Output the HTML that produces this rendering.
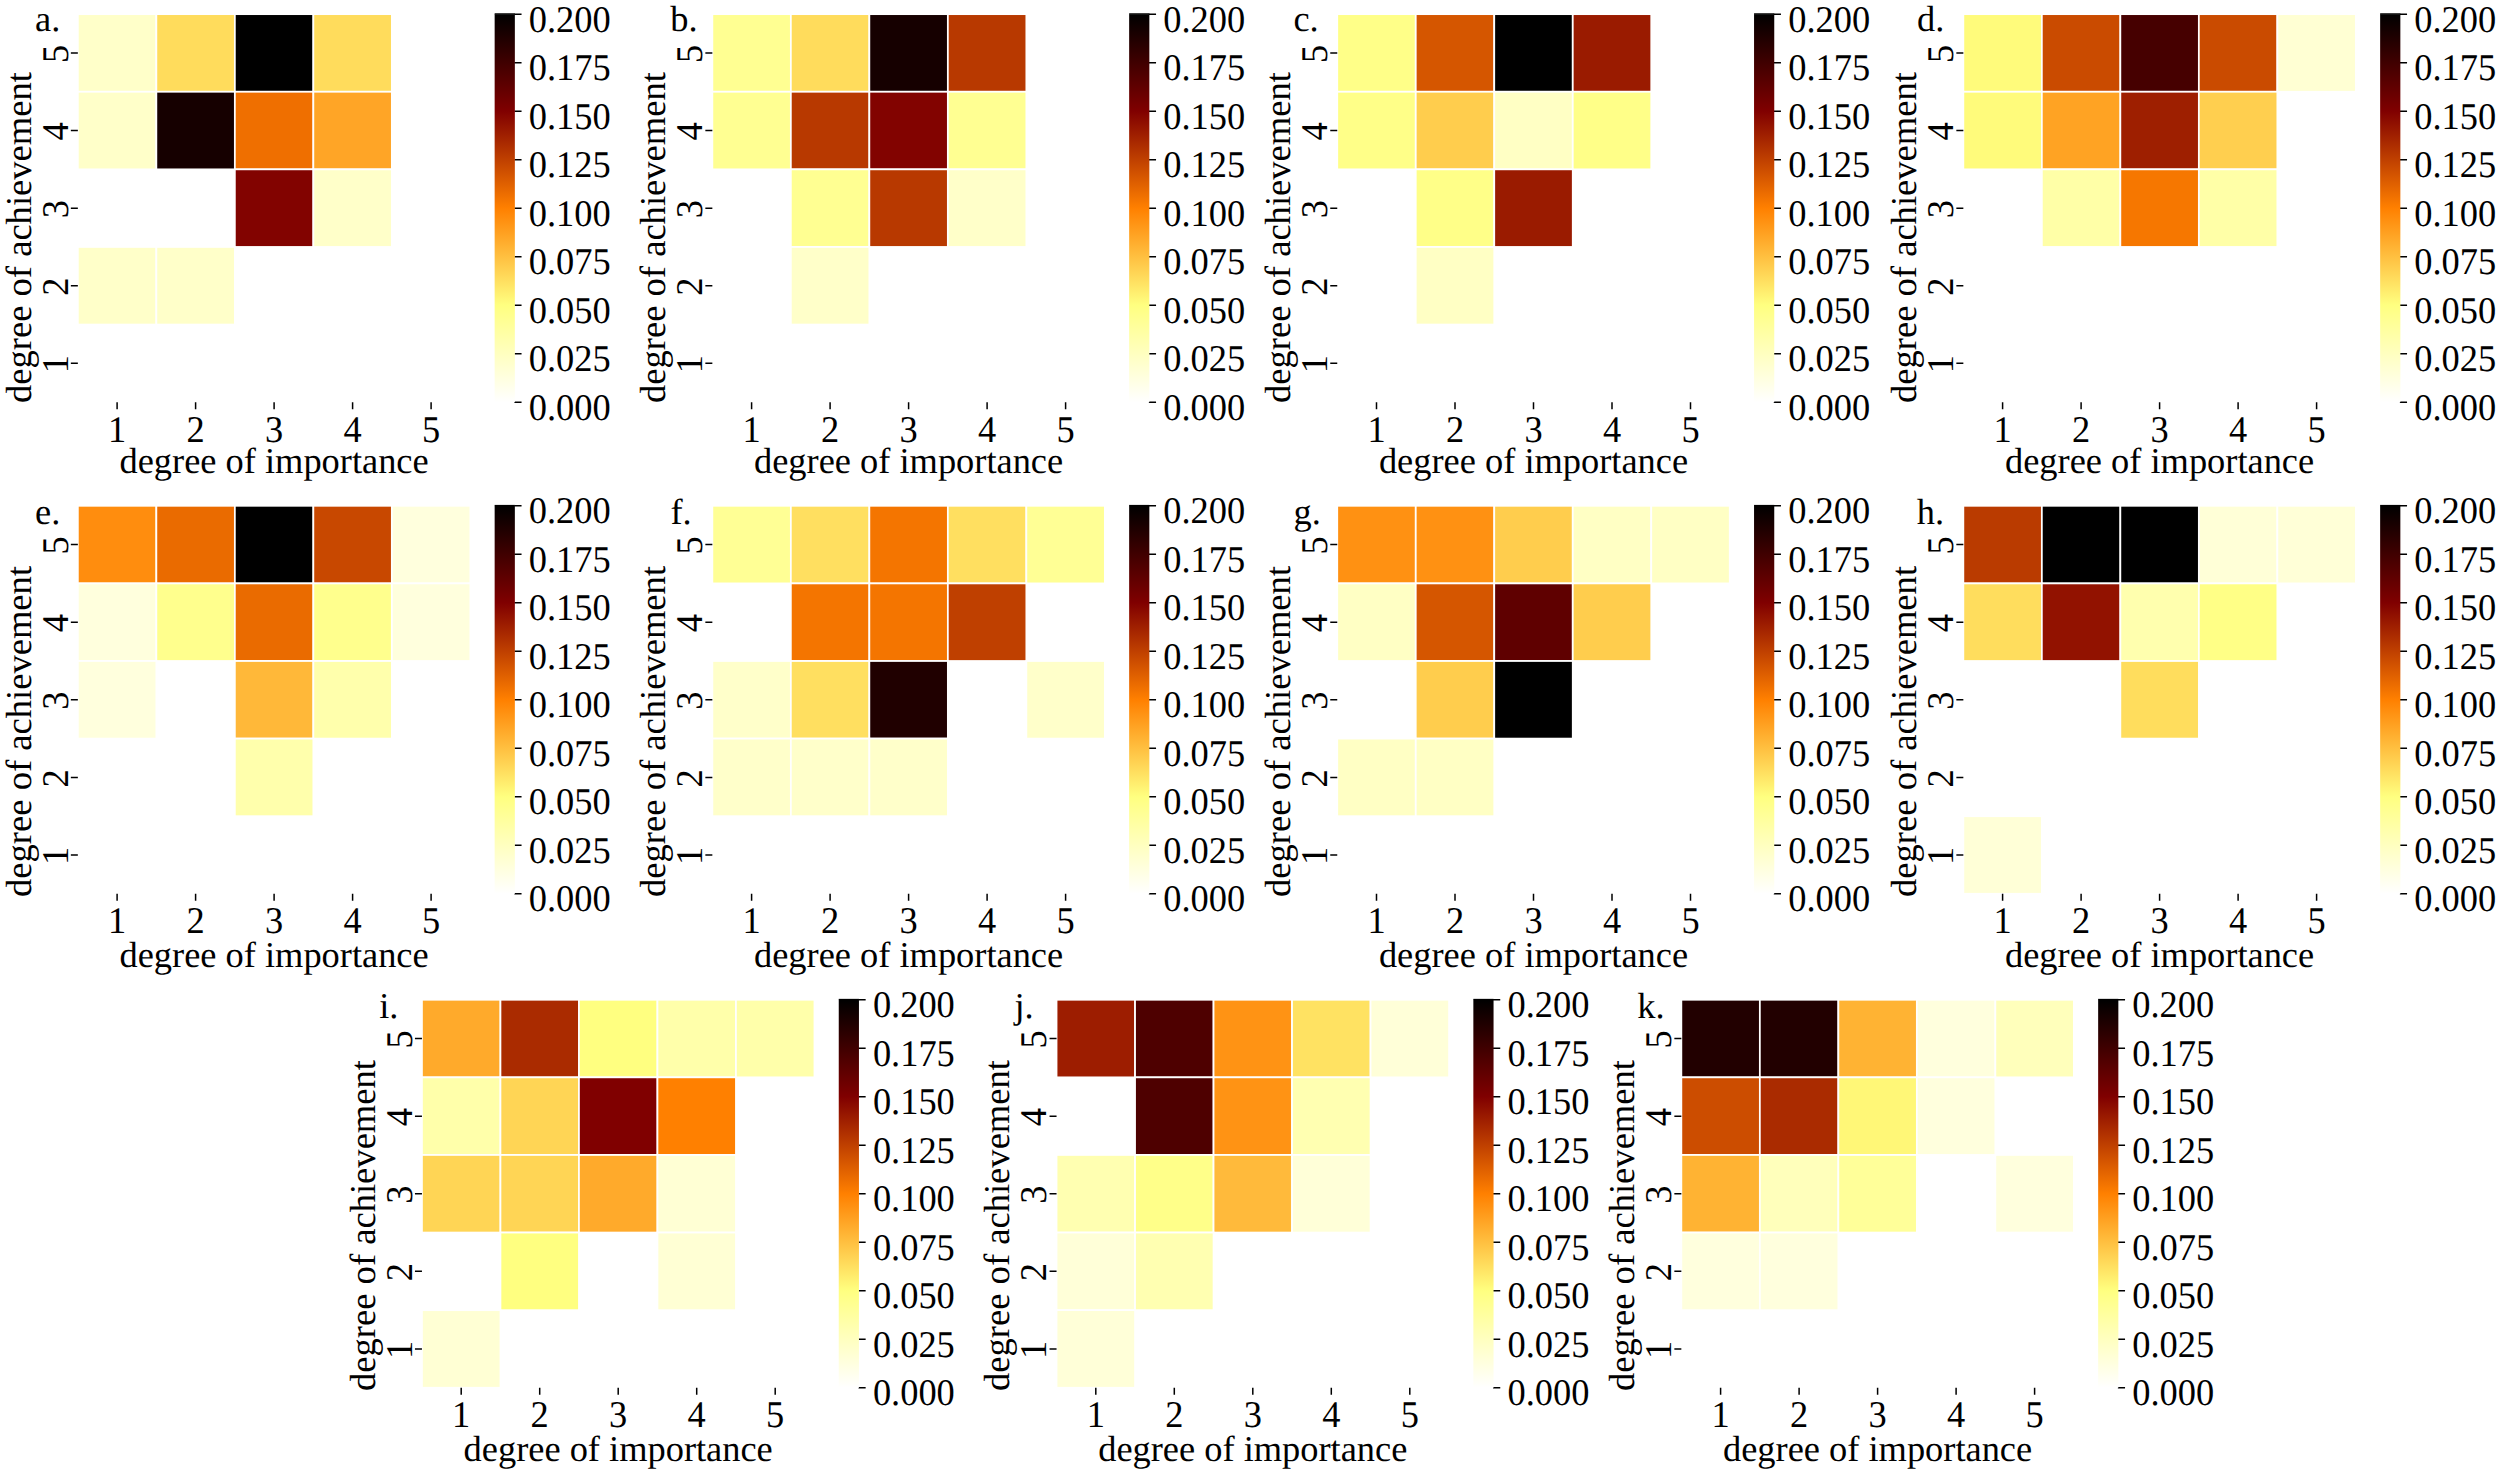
<!DOCTYPE html>
<html lang="en"><head><meta charset="utf-8"><title>Importance vs achievement heatmaps</title>
<style>html,body{margin:0;padding:0;background:#fff}svg{display:block}text{font-family:"Liberation Serif","Times New Roman",serif;font-size:36.4px;fill:#000;text-rendering:geometricPrecision}.m{text-anchor:middle}.t{stroke:#000;stroke-width:1.5}.c{stroke:#fff;stroke-width:1.75}</style></head><body>
<svg width="2500" height="1474" viewBox="0 0 2500 1474">
<defs><linearGradient id="g" x1="0" y1="0" x2="0" y2="1"><stop offset="0" stop-color="#000"/><stop offset="0.25" stop-color="#800000"/><stop offset="0.5" stop-color="#ff8000"/><stop offset="0.75" stop-color="#ffff80"/><stop offset="1" stop-color="#fff"/></linearGradient></defs>
<rect width="2500" height="1474" fill="#fff"/>
<g transform="translate(77.85 14.15)">
<rect class="c" x="0" y="0" width="78.5" height="77.6" fill="#ffffc9"/>
<rect class="c" x="78.5" y="0" width="78.5" height="77.6" fill="#ffdc5c"/>
<rect class="c" x="157" y="0" width="78.5" height="77.6" fill="#000000"/>
<rect class="c" x="235.5" y="0" width="78.5" height="77.6" fill="#ffdc5c"/>
<rect class="c" x="0" y="77.6" width="78.5" height="77.6" fill="#ffffc9"/>
<rect class="c" x="78.5" y="77.6" width="78.5" height="77.6" fill="#160000"/>
<rect class="c" x="157" y="77.6" width="78.5" height="77.6" fill="#ef6f00"/>
<rect class="c" x="235.5" y="77.6" width="78.5" height="77.6" fill="#ffa526"/>
<rect class="c" x="157" y="155.2" width="78.5" height="77.6" fill="#820300"/>
<rect class="c" x="235.5" y="155.2" width="78.5" height="77.6" fill="#ffffc9"/>
<rect class="c" x="0" y="232.8" width="78.5" height="77.6" fill="#ffffc9"/>
<rect class="c" x="78.5" y="232.8" width="78.5" height="77.6" fill="#ffffc9"/>
<path class="t" fill="none" d="M39.25 388v7M-7 38.8h7M117.75 388v7M-7 116.4h7M196.25 388v7M-7 194h7M274.75 388v7M-7 271.6h7M353.25 388v7M-7 349.2h7M436.5 388h7.2M436.5 339.5h7.2M436.5 291h7.2M436.5 242.5h7.2M436.5 194h7.2M436.5 145.5h7.2M436.5 97h7.2M436.5 48.5h7.2M436.5 0h7.2"/>
<rect x="416.8" y="-0.9" width="20.2" height="1.2" fill="#000"/><rect x="416.8" y="0" width="20.2" height="388" fill="url(#g)"/>
<text transform="translate(450.95 405.35) scale(1 1.035)">0.000</text>
<text transform="translate(450.95 356.85) scale(1 1.035)">0.025</text>
<text transform="translate(450.95 308.35) scale(1 1.035)">0.050</text>
<text transform="translate(450.95 259.85) scale(1 1.035)">0.075</text>
<text transform="translate(450.95 211.35) scale(1 1.035)">0.100</text>
<text transform="translate(450.95 162.85) scale(1 1.035)">0.125</text>
<text transform="translate(450.95 114.35) scale(1 1.035)">0.150</text>
<text transform="translate(450.95 65.85) scale(1 1.035)">0.175</text>
<text transform="translate(450.95 17.35) scale(1 1.035)">0.200</text>
<text class="m" transform="translate(39.25 427.6) scale(1 1.035)">1</text>
<text class="m" transform="translate(-10.2 39.7) rotate(-90) scale(1 1.035)">5</text>
<text class="m" transform="translate(117.75 427.6) scale(1 1.035)">2</text>
<text class="m" transform="translate(-10.2 117.3) rotate(-90) scale(1 1.035)">4</text>
<text class="m" transform="translate(196.25 427.6) scale(1 1.035)">3</text>
<text class="m" transform="translate(-10.2 194.9) rotate(-90) scale(1 1.035)">3</text>
<text class="m" transform="translate(274.75 427.6) scale(1 1.035)">4</text>
<text class="m" transform="translate(-10.2 272.5) rotate(-90) scale(1 1.035)">2</text>
<text class="m" transform="translate(353.25 427.6) scale(1 1.035)">5</text>
<text class="m" transform="translate(-10.2 350.1) rotate(-90) scale(1 1.035)">1</text>
<text class="m" x="196.25" y="458.85">degree of importance</text>
<text transform="translate(-47.3 388.9) rotate(-90) scale(1.005 1)">degree of achievement</text>
<text x="-42.85" y="16.75">a.</text>
</g>
<g transform="translate(712.35 14.15)">
<rect class="c" x="0" y="0" width="78.5" height="77.6" fill="#ffff92"/>
<rect class="c" x="78.5" y="0" width="78.5" height="77.6" fill="#ffdc5c"/>
<rect class="c" x="157" y="0" width="78.5" height="77.6" fill="#160000"/>
<rect class="c" x="235.5" y="0" width="78.5" height="77.6" fill="#b83900"/>
<rect class="c" x="0" y="77.6" width="78.5" height="77.6" fill="#ffff92"/>
<rect class="c" x="78.5" y="77.6" width="78.5" height="77.6" fill="#b83900"/>
<rect class="c" x="157" y="77.6" width="78.5" height="77.6" fill="#820300"/>
<rect class="c" x="235.5" y="77.6" width="78.5" height="77.6" fill="#ffff92"/>
<rect class="c" x="78.5" y="155.2" width="78.5" height="77.6" fill="#ffff92"/>
<rect class="c" x="157" y="155.2" width="78.5" height="77.6" fill="#b83900"/>
<rect class="c" x="235.5" y="155.2" width="78.5" height="77.6" fill="#ffffc9"/>
<rect class="c" x="78.5" y="232.8" width="78.5" height="77.6" fill="#ffffc9"/>
<path class="t" fill="none" d="M39.25 388v7M-7 38.8h7M117.75 388v7M-7 116.4h7M196.25 388v7M-7 194h7M274.75 388v7M-7 271.6h7M353.25 388v7M-7 349.2h7M436.5 388h7.2M436.5 339.5h7.2M436.5 291h7.2M436.5 242.5h7.2M436.5 194h7.2M436.5 145.5h7.2M436.5 97h7.2M436.5 48.5h7.2M436.5 0h7.2"/>
<rect x="416.8" y="-0.9" width="20.2" height="1.2" fill="#000"/><rect x="416.8" y="0" width="20.2" height="388" fill="url(#g)"/>
<text transform="translate(450.95 405.35) scale(1 1.035)">0.000</text>
<text transform="translate(450.95 356.85) scale(1 1.035)">0.025</text>
<text transform="translate(450.95 308.35) scale(1 1.035)">0.050</text>
<text transform="translate(450.95 259.85) scale(1 1.035)">0.075</text>
<text transform="translate(450.95 211.35) scale(1 1.035)">0.100</text>
<text transform="translate(450.95 162.85) scale(1 1.035)">0.125</text>
<text transform="translate(450.95 114.35) scale(1 1.035)">0.150</text>
<text transform="translate(450.95 65.85) scale(1 1.035)">0.175</text>
<text transform="translate(450.95 17.35) scale(1 1.035)">0.200</text>
<text class="m" transform="translate(39.25 427.6) scale(1 1.035)">1</text>
<text class="m" transform="translate(-10.2 39.7) rotate(-90) scale(1 1.035)">5</text>
<text class="m" transform="translate(117.75 427.6) scale(1 1.035)">2</text>
<text class="m" transform="translate(-10.2 117.3) rotate(-90) scale(1 1.035)">4</text>
<text class="m" transform="translate(196.25 427.6) scale(1 1.035)">3</text>
<text class="m" transform="translate(-10.2 194.9) rotate(-90) scale(1 1.035)">3</text>
<text class="m" transform="translate(274.75 427.6) scale(1 1.035)">4</text>
<text class="m" transform="translate(-10.2 272.5) rotate(-90) scale(1 1.035)">2</text>
<text class="m" transform="translate(353.25 427.6) scale(1 1.035)">5</text>
<text class="m" transform="translate(-10.2 350.1) rotate(-90) scale(1 1.035)">1</text>
<text class="m" x="196.25" y="458.85">degree of importance</text>
<text transform="translate(-47.3 388.9) rotate(-90) scale(1.005 1)">degree of achievement</text>
<text x="-42.1" y="16.7">b.</text>
</g>
<g transform="translate(1337.25 14.15)">
<rect class="c" x="0" y="0" width="78.5" height="77.6" fill="#ffff88"/>
<rect class="c" x="78.5" y="0" width="78.5" height="77.6" fill="#d55600"/>
<rect class="c" x="157" y="0" width="78.5" height="77.6" fill="#000000"/>
<rect class="c" x="235.5" y="0" width="78.5" height="77.6" fill="#9a1b00"/>
<rect class="c" x="0" y="77.6" width="78.5" height="77.6" fill="#ffff88"/>
<rect class="c" x="78.5" y="77.6" width="78.5" height="77.6" fill="#ffcd4d"/>
<rect class="c" x="157" y="77.6" width="78.5" height="77.6" fill="#ffffc4"/>
<rect class="c" x="235.5" y="77.6" width="78.5" height="77.6" fill="#ffff88"/>
<rect class="c" x="78.5" y="155.2" width="78.5" height="77.6" fill="#ffff88"/>
<rect class="c" x="157" y="155.2" width="78.5" height="77.6" fill="#9a1b00"/>
<rect class="c" x="78.5" y="232.8" width="78.5" height="77.6" fill="#ffffc4"/>
<path class="t" fill="none" d="M39.25 388v7M-7 38.8h7M117.75 388v7M-7 116.4h7M196.25 388v7M-7 194h7M274.75 388v7M-7 271.6h7M353.25 388v7M-7 349.2h7M436.5 388h7.2M436.5 339.5h7.2M436.5 291h7.2M436.5 242.5h7.2M436.5 194h7.2M436.5 145.5h7.2M436.5 97h7.2M436.5 48.5h7.2M436.5 0h7.2"/>
<rect x="416.8" y="-0.9" width="20.2" height="1.2" fill="#000"/><rect x="416.8" y="0" width="20.2" height="388" fill="url(#g)"/>
<text transform="translate(450.95 405.35) scale(1 1.035)">0.000</text>
<text transform="translate(450.95 356.85) scale(1 1.035)">0.025</text>
<text transform="translate(450.95 308.35) scale(1 1.035)">0.050</text>
<text transform="translate(450.95 259.85) scale(1 1.035)">0.075</text>
<text transform="translate(450.95 211.35) scale(1 1.035)">0.100</text>
<text transform="translate(450.95 162.85) scale(1 1.035)">0.125</text>
<text transform="translate(450.95 114.35) scale(1 1.035)">0.150</text>
<text transform="translate(450.95 65.85) scale(1 1.035)">0.175</text>
<text transform="translate(450.95 17.35) scale(1 1.035)">0.200</text>
<text class="m" transform="translate(39.25 427.6) scale(1 1.035)">1</text>
<text class="m" transform="translate(-10.2 39.7) rotate(-90) scale(1 1.035)">5</text>
<text class="m" transform="translate(117.75 427.6) scale(1 1.035)">2</text>
<text class="m" transform="translate(-10.2 117.3) rotate(-90) scale(1 1.035)">4</text>
<text class="m" transform="translate(196.25 427.6) scale(1 1.035)">3</text>
<text class="m" transform="translate(-10.2 194.9) rotate(-90) scale(1 1.035)">3</text>
<text class="m" transform="translate(274.75 427.6) scale(1 1.035)">4</text>
<text class="m" transform="translate(-10.2 272.5) rotate(-90) scale(1 1.035)">2</text>
<text class="m" transform="translate(353.25 427.6) scale(1 1.035)">5</text>
<text class="m" transform="translate(-10.2 350.1) rotate(-90) scale(1 1.035)">1</text>
<text class="m" x="196.25" y="458.85">degree of importance</text>
<text transform="translate(-47.3 388.9) rotate(-90) scale(1.005 1)">degree of achievement</text>
<text x="-43.8" y="16.6">c.</text>
</g>
<g transform="translate(1963.35 14.15)">
<rect class="c" x="0" y="0" width="78.5" height="77.6" fill="#fffb7b"/>
<rect class="c" x="78.5" y="0" width="78.5" height="77.6" fill="#ca4b00"/>
<rect class="c" x="157" y="0" width="78.5" height="77.6" fill="#460000"/>
<rect class="c" x="235.5" y="0" width="78.5" height="77.6" fill="#ca4b00"/>
<rect class="c" x="314" y="0" width="78.5" height="77.6" fill="#ffffd3"/>
<rect class="c" x="0" y="77.6" width="78.5" height="77.6" fill="#fffb7b"/>
<rect class="c" x="78.5" y="77.6" width="78.5" height="77.6" fill="#ffa323"/>
<rect class="c" x="157" y="77.6" width="78.5" height="77.6" fill="#9e1f00"/>
<rect class="c" x="235.5" y="77.6" width="78.5" height="77.6" fill="#ffcf4f"/>
<rect class="c" x="78.5" y="155.2" width="78.5" height="77.6" fill="#ffffa7"/>
<rect class="c" x="157" y="155.2" width="78.5" height="77.6" fill="#f67700"/>
<rect class="c" x="235.5" y="155.2" width="78.5" height="77.6" fill="#ffffa7"/>
<path class="t" fill="none" d="M39.25 388v7M-7 38.8h7M117.75 388v7M-7 116.4h7M196.25 388v7M-7 194h7M274.75 388v7M-7 271.6h7M353.25 388v7M-7 349.2h7M436.5 388h7.2M436.5 339.5h7.2M436.5 291h7.2M436.5 242.5h7.2M436.5 194h7.2M436.5 145.5h7.2M436.5 97h7.2M436.5 48.5h7.2M436.5 0h7.2"/>
<rect x="416.8" y="-0.9" width="20.2" height="1.2" fill="#000"/><rect x="416.8" y="0" width="20.2" height="388" fill="url(#g)"/>
<text transform="translate(450.95 405.35) scale(1 1.035)">0.000</text>
<text transform="translate(450.95 356.85) scale(1 1.035)">0.025</text>
<text transform="translate(450.95 308.35) scale(1 1.035)">0.050</text>
<text transform="translate(450.95 259.85) scale(1 1.035)">0.075</text>
<text transform="translate(450.95 211.35) scale(1 1.035)">0.100</text>
<text transform="translate(450.95 162.85) scale(1 1.035)">0.125</text>
<text transform="translate(450.95 114.35) scale(1 1.035)">0.150</text>
<text transform="translate(450.95 65.85) scale(1 1.035)">0.175</text>
<text transform="translate(450.95 17.35) scale(1 1.035)">0.200</text>
<text class="m" transform="translate(39.25 427.6) scale(1 1.035)">1</text>
<text class="m" transform="translate(-10.2 39.7) rotate(-90) scale(1 1.035)">5</text>
<text class="m" transform="translate(117.75 427.6) scale(1 1.035)">2</text>
<text class="m" transform="translate(-10.2 117.3) rotate(-90) scale(1 1.035)">4</text>
<text class="m" transform="translate(196.25 427.6) scale(1 1.035)">3</text>
<text class="m" transform="translate(-10.2 194.9) rotate(-90) scale(1 1.035)">3</text>
<text class="m" transform="translate(274.75 427.6) scale(1 1.035)">4</text>
<text class="m" transform="translate(-10.2 272.5) rotate(-90) scale(1 1.035)">2</text>
<text class="m" transform="translate(353.25 427.6) scale(1 1.035)">5</text>
<text class="m" transform="translate(-10.2 350.1) rotate(-90) scale(1 1.035)">1</text>
<text class="m" x="196.25" y="458.85">degree of importance</text>
<text transform="translate(-47.3 388.9) rotate(-90) scale(1.005 1)">degree of achievement</text>
<text x="-46.3" y="16.9">d.</text>
</g>
<g transform="translate(77.85 505.8)">
<rect class="c" x="0" y="0" width="78.5" height="77.6" fill="#ff8d0e"/>
<rect class="c" x="78.5" y="0" width="78.5" height="77.6" fill="#ea6b00"/>
<rect class="c" x="157" y="0" width="78.5" height="77.6" fill="#000000"/>
<rect class="c" x="235.5" y="0" width="78.5" height="77.6" fill="#c84800"/>
<rect class="c" x="314" y="0" width="78.5" height="77.6" fill="#ffffdd"/>
<rect class="c" x="0" y="77.6" width="78.5" height="77.6" fill="#ffffdd"/>
<rect class="c" x="78.5" y="77.6" width="78.5" height="77.6" fill="#ffff8d"/>
<rect class="c" x="157" y="77.6" width="78.5" height="77.6" fill="#ea6b00"/>
<rect class="c" x="235.5" y="77.6" width="78.5" height="77.6" fill="#ffff8d"/>
<rect class="c" x="314" y="77.6" width="78.5" height="77.6" fill="#ffffdd"/>
<rect class="c" x="0" y="155.2" width="78.5" height="77.6" fill="#ffffdd"/>
<rect class="c" x="157" y="155.2" width="78.5" height="77.6" fill="#ffb839"/>
<rect class="c" x="235.5" y="155.2" width="78.5" height="77.6" fill="#ffffac"/>
<rect class="c" x="157" y="232.8" width="78.5" height="77.6" fill="#ffffac"/>
<path class="t" fill="none" d="M39.25 388v7M-7 38.8h7M117.75 388v7M-7 116.4h7M196.25 388v7M-7 194h7M274.75 388v7M-7 271.6h7M353.25 388v7M-7 349.2h7M436.5 388h7.2M436.5 339.5h7.2M436.5 291h7.2M436.5 242.5h7.2M436.5 194h7.2M436.5 145.5h7.2M436.5 97h7.2M436.5 48.5h7.2M436.5 0h7.2"/>
<rect x="416.8" y="-0.9" width="20.2" height="1.2" fill="#000"/><rect x="416.8" y="0" width="20.2" height="388" fill="url(#g)"/>
<text transform="translate(450.95 405.35) scale(1 1.035)">0.000</text>
<text transform="translate(450.95 356.85) scale(1 1.035)">0.025</text>
<text transform="translate(450.95 308.35) scale(1 1.035)">0.050</text>
<text transform="translate(450.95 259.85) scale(1 1.035)">0.075</text>
<text transform="translate(450.95 211.35) scale(1 1.035)">0.100</text>
<text transform="translate(450.95 162.85) scale(1 1.035)">0.125</text>
<text transform="translate(450.95 114.35) scale(1 1.035)">0.150</text>
<text transform="translate(450.95 65.85) scale(1 1.035)">0.175</text>
<text transform="translate(450.95 17.35) scale(1 1.035)">0.200</text>
<text class="m" transform="translate(39.25 427.6) scale(1 1.035)">1</text>
<text class="m" transform="translate(-10.2 39.7) rotate(-90) scale(1 1.035)">5</text>
<text class="m" transform="translate(117.75 427.6) scale(1 1.035)">2</text>
<text class="m" transform="translate(-10.2 117.3) rotate(-90) scale(1 1.035)">4</text>
<text class="m" transform="translate(196.25 427.6) scale(1 1.035)">3</text>
<text class="m" transform="translate(-10.2 194.9) rotate(-90) scale(1 1.035)">3</text>
<text class="m" transform="translate(274.75 427.6) scale(1 1.035)">4</text>
<text class="m" transform="translate(-10.2 272.5) rotate(-90) scale(1 1.035)">2</text>
<text class="m" transform="translate(353.25 427.6) scale(1 1.035)">5</text>
<text class="m" transform="translate(-10.2 350.1) rotate(-90) scale(1 1.035)">1</text>
<text class="m" x="196.25" y="461">degree of importance</text>
<text transform="translate(-47.3 391.15) rotate(-90) scale(1.005 1)">degree of achievement</text>
<text x="-42.8" y="18.4">e.</text>
</g>
<g transform="translate(712.35 505.8)">
<rect class="c" x="0" y="0" width="78.5" height="77.6" fill="#ffff95"/>
<rect class="c" x="78.5" y="0" width="78.5" height="77.6" fill="#ffdf60"/>
<rect class="c" x="157" y="0" width="78.5" height="77.6" fill="#f47500"/>
<rect class="c" x="235.5" y="0" width="78.5" height="77.6" fill="#ffdf60"/>
<rect class="c" x="314" y="0" width="78.5" height="77.6" fill="#ffff95"/>
<rect class="c" x="78.5" y="77.6" width="78.5" height="77.6" fill="#f47500"/>
<rect class="c" x="157" y="77.6" width="78.5" height="77.6" fill="#f47500"/>
<rect class="c" x="235.5" y="77.6" width="78.5" height="77.6" fill="#bf4000"/>
<rect class="c" x="0" y="155.2" width="78.5" height="77.6" fill="#ffffca"/>
<rect class="c" x="78.5" y="155.2" width="78.5" height="77.6" fill="#ffdf60"/>
<rect class="c" x="157" y="155.2" width="78.5" height="77.6" fill="#200000"/>
<rect class="c" x="314" y="155.2" width="78.5" height="77.6" fill="#ffffca"/>
<rect class="c" x="0" y="232.8" width="78.5" height="77.6" fill="#ffffca"/>
<rect class="c" x="78.5" y="232.8" width="78.5" height="77.6" fill="#ffffca"/>
<rect class="c" x="157" y="232.8" width="78.5" height="77.6" fill="#ffffca"/>
<path class="t" fill="none" d="M39.25 388v7M-7 38.8h7M117.75 388v7M-7 116.4h7M196.25 388v7M-7 194h7M274.75 388v7M-7 271.6h7M353.25 388v7M-7 349.2h7M436.5 388h7.2M436.5 339.5h7.2M436.5 291h7.2M436.5 242.5h7.2M436.5 194h7.2M436.5 145.5h7.2M436.5 97h7.2M436.5 48.5h7.2M436.5 0h7.2"/>
<rect x="416.8" y="-0.9" width="20.2" height="1.2" fill="#000"/><rect x="416.8" y="0" width="20.2" height="388" fill="url(#g)"/>
<text transform="translate(450.95 405.35) scale(1 1.035)">0.000</text>
<text transform="translate(450.95 356.85) scale(1 1.035)">0.025</text>
<text transform="translate(450.95 308.35) scale(1 1.035)">0.050</text>
<text transform="translate(450.95 259.85) scale(1 1.035)">0.075</text>
<text transform="translate(450.95 211.35) scale(1 1.035)">0.100</text>
<text transform="translate(450.95 162.85) scale(1 1.035)">0.125</text>
<text transform="translate(450.95 114.35) scale(1 1.035)">0.150</text>
<text transform="translate(450.95 65.85) scale(1 1.035)">0.175</text>
<text transform="translate(450.95 17.35) scale(1 1.035)">0.200</text>
<text class="m" transform="translate(39.25 427.6) scale(1 1.035)">1</text>
<text class="m" transform="translate(-10.2 39.7) rotate(-90) scale(1 1.035)">5</text>
<text class="m" transform="translate(117.75 427.6) scale(1 1.035)">2</text>
<text class="m" transform="translate(-10.2 117.3) rotate(-90) scale(1 1.035)">4</text>
<text class="m" transform="translate(196.25 427.6) scale(1 1.035)">3</text>
<text class="m" transform="translate(-10.2 194.9) rotate(-90) scale(1 1.035)">3</text>
<text class="m" transform="translate(274.75 427.6) scale(1 1.035)">4</text>
<text class="m" transform="translate(-10.2 272.5) rotate(-90) scale(1 1.035)">2</text>
<text class="m" transform="translate(353.25 427.6) scale(1 1.035)">5</text>
<text class="m" transform="translate(-10.2 350.1) rotate(-90) scale(1 1.035)">1</text>
<text class="m" x="196.25" y="461">degree of importance</text>
<text transform="translate(-47.3 391.15) rotate(-90) scale(1.005 1)">degree of achievement</text>
<text x="-41.9" y="18.35">f.</text>
</g>
<g transform="translate(1337.25 505.8)">
<rect class="c" x="0" y="0" width="78.5" height="77.6" fill="#ff9112"/>
<rect class="c" x="78.5" y="0" width="78.5" height="77.6" fill="#ff9112"/>
<rect class="c" x="157" y="0" width="78.5" height="77.6" fill="#ffcd4d"/>
<rect class="c" x="235.5" y="0" width="78.5" height="77.6" fill="#ffffc4"/>
<rect class="c" x="314" y="0" width="78.5" height="77.6" fill="#ffffc4"/>
<rect class="c" x="0" y="77.6" width="78.5" height="77.6" fill="#ffffc4"/>
<rect class="c" x="78.5" y="77.6" width="78.5" height="77.6" fill="#d55600"/>
<rect class="c" x="157" y="77.6" width="78.5" height="77.6" fill="#5f0000"/>
<rect class="c" x="235.5" y="77.6" width="78.5" height="77.6" fill="#ffcd4d"/>
<rect class="c" x="78.5" y="155.2" width="78.5" height="77.6" fill="#ffcd4d"/>
<rect class="c" x="157" y="155.2" width="78.5" height="77.6" fill="#000000"/>
<rect class="c" x="0" y="232.8" width="78.5" height="77.6" fill="#ffffc4"/>
<rect class="c" x="78.5" y="232.8" width="78.5" height="77.6" fill="#ffffc4"/>
<path class="t" fill="none" d="M39.25 388v7M-7 38.8h7M117.75 388v7M-7 116.4h7M196.25 388v7M-7 194h7M274.75 388v7M-7 271.6h7M353.25 388v7M-7 349.2h7M436.5 388h7.2M436.5 339.5h7.2M436.5 291h7.2M436.5 242.5h7.2M436.5 194h7.2M436.5 145.5h7.2M436.5 97h7.2M436.5 48.5h7.2M436.5 0h7.2"/>
<rect x="416.8" y="-0.9" width="20.2" height="1.2" fill="#000"/><rect x="416.8" y="0" width="20.2" height="388" fill="url(#g)"/>
<text transform="translate(450.95 405.35) scale(1 1.035)">0.000</text>
<text transform="translate(450.95 356.85) scale(1 1.035)">0.025</text>
<text transform="translate(450.95 308.35) scale(1 1.035)">0.050</text>
<text transform="translate(450.95 259.85) scale(1 1.035)">0.075</text>
<text transform="translate(450.95 211.35) scale(1 1.035)">0.100</text>
<text transform="translate(450.95 162.85) scale(1 1.035)">0.125</text>
<text transform="translate(450.95 114.35) scale(1 1.035)">0.150</text>
<text transform="translate(450.95 65.85) scale(1 1.035)">0.175</text>
<text transform="translate(450.95 17.35) scale(1 1.035)">0.200</text>
<text class="m" transform="translate(39.25 427.6) scale(1 1.035)">1</text>
<text class="m" transform="translate(-10.2 39.7) rotate(-90) scale(1 1.035)">5</text>
<text class="m" transform="translate(117.75 427.6) scale(1 1.035)">2</text>
<text class="m" transform="translate(-10.2 117.3) rotate(-90) scale(1 1.035)">4</text>
<text class="m" transform="translate(196.25 427.6) scale(1 1.035)">3</text>
<text class="m" transform="translate(-10.2 194.9) rotate(-90) scale(1 1.035)">3</text>
<text class="m" transform="translate(274.75 427.6) scale(1 1.035)">4</text>
<text class="m" transform="translate(-10.2 272.5) rotate(-90) scale(1 1.035)">2</text>
<text class="m" transform="translate(353.25 427.6) scale(1 1.035)">5</text>
<text class="m" transform="translate(-10.2 350.1) rotate(-90) scale(1 1.035)">1</text>
<text class="m" x="196.25" y="461">degree of importance</text>
<text transform="translate(-47.3 391.15) rotate(-90) scale(1.005 1)">degree of achievement</text>
<text x="-43.8" y="18.35">g.</text>
</g>
<g transform="translate(1963.35 505.8)">
<rect class="c" x="0" y="0" width="78.5" height="77.6" fill="#ba3b00"/>
<rect class="c" x="78.5" y="0" width="78.5" height="77.6" fill="#000000"/>
<rect class="c" x="157" y="0" width="78.5" height="77.6" fill="#000000"/>
<rect class="c" x="235.5" y="0" width="78.5" height="77.6" fill="#ffffd7"/>
<rect class="c" x="314" y="0" width="78.5" height="77.6" fill="#ffffd7"/>
<rect class="c" x="0" y="77.6" width="78.5" height="77.6" fill="#ffdd5d"/>
<rect class="c" x="78.5" y="77.6" width="78.5" height="77.6" fill="#921200"/>
<rect class="c" x="157" y="77.6" width="78.5" height="77.6" fill="#ffffae"/>
<rect class="c" x="235.5" y="77.6" width="78.5" height="77.6" fill="#ffff86"/>
<rect class="c" x="157" y="155.2" width="78.5" height="77.6" fill="#ffdd5d"/>
<rect class="c" x="0" y="310.4" width="78.5" height="77.6" fill="#ffffd7"/>
<path class="t" fill="none" d="M39.25 388v7M-7 38.8h7M117.75 388v7M-7 116.4h7M196.25 388v7M-7 194h7M274.75 388v7M-7 271.6h7M353.25 388v7M-7 349.2h7M436.5 388h7.2M436.5 339.5h7.2M436.5 291h7.2M436.5 242.5h7.2M436.5 194h7.2M436.5 145.5h7.2M436.5 97h7.2M436.5 48.5h7.2M436.5 0h7.2"/>
<rect x="416.8" y="-0.9" width="20.2" height="1.2" fill="#000"/><rect x="416.8" y="0" width="20.2" height="388" fill="url(#g)"/>
<text transform="translate(450.95 405.35) scale(1 1.035)">0.000</text>
<text transform="translate(450.95 356.85) scale(1 1.035)">0.025</text>
<text transform="translate(450.95 308.35) scale(1 1.035)">0.050</text>
<text transform="translate(450.95 259.85) scale(1 1.035)">0.075</text>
<text transform="translate(450.95 211.35) scale(1 1.035)">0.100</text>
<text transform="translate(450.95 162.85) scale(1 1.035)">0.125</text>
<text transform="translate(450.95 114.35) scale(1 1.035)">0.150</text>
<text transform="translate(450.95 65.85) scale(1 1.035)">0.175</text>
<text transform="translate(450.95 17.35) scale(1 1.035)">0.200</text>
<text class="m" transform="translate(39.25 427.6) scale(1 1.035)">1</text>
<text class="m" transform="translate(-10.2 39.7) rotate(-90) scale(1 1.035)">5</text>
<text class="m" transform="translate(117.75 427.6) scale(1 1.035)">2</text>
<text class="m" transform="translate(-10.2 117.3) rotate(-90) scale(1 1.035)">4</text>
<text class="m" transform="translate(196.25 427.6) scale(1 1.035)">3</text>
<text class="m" transform="translate(-10.2 194.9) rotate(-90) scale(1 1.035)">3</text>
<text class="m" transform="translate(274.75 427.6) scale(1 1.035)">4</text>
<text class="m" transform="translate(-10.2 272.5) rotate(-90) scale(1 1.035)">2</text>
<text class="m" transform="translate(353.25 427.6) scale(1 1.035)">5</text>
<text class="m" transform="translate(-10.2 350.1) rotate(-90) scale(1 1.035)">1</text>
<text class="m" x="196.25" y="461">degree of importance</text>
<text transform="translate(-47.3 391.15) rotate(-90) scale(1.005 1)">degree of achievement</text>
<text x="-46.5" y="18.4">h.</text>
</g>
<g transform="translate(421.95 999.75)">
<rect class="c" x="0" y="0" width="78.5" height="77.6" fill="#ffaa2b"/>
<rect class="c" x="78.5" y="0" width="78.5" height="77.6" fill="#aa2b00"/>
<rect class="c" x="157" y="0" width="78.5" height="77.6" fill="#ffff80"/>
<rect class="c" x="235.5" y="0" width="78.5" height="77.6" fill="#ffffaa"/>
<rect class="c" x="314" y="0" width="78.5" height="77.6" fill="#ffffaa"/>
<rect class="c" x="0" y="77.6" width="78.5" height="77.6" fill="#ffffaa"/>
<rect class="c" x="78.5" y="77.6" width="78.5" height="77.6" fill="#ffd555"/>
<rect class="c" x="157" y="77.6" width="78.5" height="77.6" fill="#800000"/>
<rect class="c" x="235.5" y="77.6" width="78.5" height="77.6" fill="#ff8000"/>
<rect class="c" x="0" y="155.2" width="78.5" height="77.6" fill="#ffd555"/>
<rect class="c" x="78.5" y="155.2" width="78.5" height="77.6" fill="#ffd555"/>
<rect class="c" x="157" y="155.2" width="78.5" height="77.6" fill="#ffaa2b"/>
<rect class="c" x="235.5" y="155.2" width="78.5" height="77.6" fill="#ffffd4"/>
<rect class="c" x="78.5" y="232.8" width="78.5" height="77.6" fill="#ffff80"/>
<rect class="c" x="235.5" y="232.8" width="78.5" height="77.6" fill="#ffffd4"/>
<rect class="c" x="0" y="310.4" width="78.5" height="77.6" fill="#ffffd4"/>
<path class="t" fill="none" d="M39.25 388v7M-7 38.8h7M117.75 388v7M-7 116.4h7M196.25 388v7M-7 194h7M274.75 388v7M-7 271.6h7M353.25 388v7M-7 349.2h7M436.5 388h7.2M436.5 339.5h7.2M436.5 291h7.2M436.5 242.5h7.2M436.5 194h7.2M436.5 145.5h7.2M436.5 97h7.2M436.5 48.5h7.2M436.5 0h7.2"/>
<rect x="416.8" y="-0.9" width="20.2" height="1.2" fill="#000"/><rect x="416.8" y="0" width="20.2" height="388" fill="url(#g)"/>
<text transform="translate(450.95 405.35) scale(1 1.035)">0.000</text>
<text transform="translate(450.95 356.85) scale(1 1.035)">0.025</text>
<text transform="translate(450.95 308.35) scale(1 1.035)">0.050</text>
<text transform="translate(450.95 259.85) scale(1 1.035)">0.075</text>
<text transform="translate(450.95 211.35) scale(1 1.035)">0.100</text>
<text transform="translate(450.95 162.85) scale(1 1.035)">0.125</text>
<text transform="translate(450.95 114.35) scale(1 1.035)">0.150</text>
<text transform="translate(450.95 65.85) scale(1 1.035)">0.175</text>
<text transform="translate(450.95 17.35) scale(1 1.035)">0.200</text>
<text class="m" transform="translate(39.25 427.6) scale(1 1.035)">1</text>
<text class="m" transform="translate(-10.2 39.7) rotate(-90) scale(1 1.035)">5</text>
<text class="m" transform="translate(117.75 427.6) scale(1 1.035)">2</text>
<text class="m" transform="translate(-10.2 117.3) rotate(-90) scale(1 1.035)">4</text>
<text class="m" transform="translate(196.25 427.6) scale(1 1.035)">3</text>
<text class="m" transform="translate(-10.2 194.9) rotate(-90) scale(1 1.035)">3</text>
<text class="m" transform="translate(274.75 427.6) scale(1 1.035)">4</text>
<text class="m" transform="translate(-10.2 272.5) rotate(-90) scale(1 1.035)">2</text>
<text class="m" transform="translate(353.25 427.6) scale(1 1.035)">5</text>
<text class="m" transform="translate(-10.2 350.1) rotate(-90) scale(1 1.035)">1</text>
<text class="m" x="196.25" y="461">degree of importance</text>
<text transform="translate(-47.3 391.25) rotate(-90) scale(1.005 1)">degree of achievement</text>
<text x="-42.8" y="18.7">i.</text>
</g>
<g transform="translate(1056.55 999.75)">
<rect class="c" x="0" y="0" width="78.5" height="77.6" fill="#9d1d00"/>
<rect class="c" x="78.5" y="0" width="78.5" height="77.6" fill="#4e0000"/>
<rect class="c" x="157" y="0" width="78.5" height="77.6" fill="#ff9314"/>
<rect class="c" x="235.5" y="0" width="78.5" height="77.6" fill="#ffe262"/>
<rect class="c" x="314" y="0" width="78.5" height="77.6" fill="#ffffd8"/>
<rect class="c" x="78.5" y="77.6" width="78.5" height="77.6" fill="#4e0000"/>
<rect class="c" x="157" y="77.6" width="78.5" height="77.6" fill="#ff9314"/>
<rect class="c" x="235.5" y="77.6" width="78.5" height="77.6" fill="#ffffb1"/>
<rect class="c" x="0" y="155.2" width="78.5" height="77.6" fill="#ffffb1"/>
<rect class="c" x="78.5" y="155.2" width="78.5" height="77.6" fill="#ffff89"/>
<rect class="c" x="157" y="155.2" width="78.5" height="77.6" fill="#ffba3b"/>
<rect class="c" x="235.5" y="155.2" width="78.5" height="77.6" fill="#ffffd8"/>
<rect class="c" x="0" y="232.8" width="78.5" height="77.6" fill="#ffffd8"/>
<rect class="c" x="78.5" y="232.8" width="78.5" height="77.6" fill="#ffffb1"/>
<rect class="c" x="0" y="310.4" width="78.5" height="77.6" fill="#ffffd8"/>
<path class="t" fill="none" d="M39.25 388v7M-7 38.8h7M117.75 388v7M-7 116.4h7M196.25 388v7M-7 194h7M274.75 388v7M-7 271.6h7M353.25 388v7M-7 349.2h7M436.5 388h7.2M436.5 339.5h7.2M436.5 291h7.2M436.5 242.5h7.2M436.5 194h7.2M436.5 145.5h7.2M436.5 97h7.2M436.5 48.5h7.2M436.5 0h7.2"/>
<rect x="416.8" y="-0.9" width="20.2" height="1.2" fill="#000"/><rect x="416.8" y="0" width="20.2" height="388" fill="url(#g)"/>
<text transform="translate(450.95 405.35) scale(1 1.035)">0.000</text>
<text transform="translate(450.95 356.85) scale(1 1.035)">0.025</text>
<text transform="translate(450.95 308.35) scale(1 1.035)">0.050</text>
<text transform="translate(450.95 259.85) scale(1 1.035)">0.075</text>
<text transform="translate(450.95 211.35) scale(1 1.035)">0.100</text>
<text transform="translate(450.95 162.85) scale(1 1.035)">0.125</text>
<text transform="translate(450.95 114.35) scale(1 1.035)">0.150</text>
<text transform="translate(450.95 65.85) scale(1 1.035)">0.175</text>
<text transform="translate(450.95 17.35) scale(1 1.035)">0.200</text>
<text class="m" transform="translate(39.25 427.6) scale(1 1.035)">1</text>
<text class="m" transform="translate(-10.2 39.7) rotate(-90) scale(1 1.035)">5</text>
<text class="m" transform="translate(117.75 427.6) scale(1 1.035)">2</text>
<text class="m" transform="translate(-10.2 117.3) rotate(-90) scale(1 1.035)">4</text>
<text class="m" transform="translate(196.25 427.6) scale(1 1.035)">3</text>
<text class="m" transform="translate(-10.2 194.9) rotate(-90) scale(1 1.035)">3</text>
<text class="m" transform="translate(274.75 427.6) scale(1 1.035)">4</text>
<text class="m" transform="translate(-10.2 272.5) rotate(-90) scale(1 1.035)">2</text>
<text class="m" transform="translate(353.25 427.6) scale(1 1.035)">5</text>
<text class="m" transform="translate(-10.2 350.1) rotate(-90) scale(1 1.035)">1</text>
<text class="m" x="196.25" y="461">degree of importance</text>
<text transform="translate(-47.3 391.25) rotate(-90) scale(1.005 1)">degree of achievement</text>
<text x="-42.1" y="18.7">j.</text>
</g>
<g transform="translate(1681.35 999.75)">
<rect class="c" x="0" y="0" width="78.5" height="77.6" fill="#220000"/>
<rect class="c" x="78.5" y="0" width="78.5" height="77.6" fill="#220000"/>
<rect class="c" x="157" y="0" width="78.5" height="77.6" fill="#ffb333"/>
<rect class="c" x="235.5" y="0" width="78.5" height="77.6" fill="#ffffdd"/>
<rect class="c" x="314" y="0" width="78.5" height="77.6" fill="#ffffbb"/>
<rect class="c" x="0" y="77.6" width="78.5" height="77.6" fill="#cc4d00"/>
<rect class="c" x="78.5" y="77.6" width="78.5" height="77.6" fill="#aa2b00"/>
<rect class="c" x="157" y="77.6" width="78.5" height="77.6" fill="#fff777"/>
<rect class="c" x="235.5" y="77.6" width="78.5" height="77.6" fill="#ffffdd"/>
<rect class="c" x="0" y="155.2" width="78.5" height="77.6" fill="#ffb333"/>
<rect class="c" x="78.5" y="155.2" width="78.5" height="77.6" fill="#ffffbb"/>
<rect class="c" x="157" y="155.2" width="78.5" height="77.6" fill="#ffff99"/>
<rect class="c" x="314" y="155.2" width="78.5" height="77.6" fill="#ffffdd"/>
<rect class="c" x="0" y="232.8" width="78.5" height="77.6" fill="#ffffdd"/>
<rect class="c" x="78.5" y="232.8" width="78.5" height="77.6" fill="#ffffdd"/>
<path class="t" fill="none" d="M39.25 388v7M-7 38.8h7M117.75 388v7M-7 116.4h7M196.25 388v7M-7 194h7M274.75 388v7M-7 271.6h7M353.25 388v7M-7 349.2h7M436.5 388h7.2M436.5 339.5h7.2M436.5 291h7.2M436.5 242.5h7.2M436.5 194h7.2M436.5 145.5h7.2M436.5 97h7.2M436.5 48.5h7.2M436.5 0h7.2"/>
<rect x="416.8" y="-0.9" width="20.2" height="1.2" fill="#000"/><rect x="416.8" y="0" width="20.2" height="388" fill="url(#g)"/>
<text transform="translate(450.95 405.35) scale(1 1.035)">0.000</text>
<text transform="translate(450.95 356.85) scale(1 1.035)">0.025</text>
<text transform="translate(450.95 308.35) scale(1 1.035)">0.050</text>
<text transform="translate(450.95 259.85) scale(1 1.035)">0.075</text>
<text transform="translate(450.95 211.35) scale(1 1.035)">0.100</text>
<text transform="translate(450.95 162.85) scale(1 1.035)">0.125</text>
<text transform="translate(450.95 114.35) scale(1 1.035)">0.150</text>
<text transform="translate(450.95 65.85) scale(1 1.035)">0.175</text>
<text transform="translate(450.95 17.35) scale(1 1.035)">0.200</text>
<text class="m" transform="translate(39.25 427.6) scale(1 1.035)">1</text>
<text class="m" transform="translate(-10.2 39.7) rotate(-90) scale(1 1.035)">5</text>
<text class="m" transform="translate(117.75 427.6) scale(1 1.035)">2</text>
<text class="m" transform="translate(-10.2 117.3) rotate(-90) scale(1 1.035)">4</text>
<text class="m" transform="translate(196.25 427.6) scale(1 1.035)">3</text>
<text class="m" transform="translate(-10.2 194.9) rotate(-90) scale(1 1.035)">3</text>
<text class="m" transform="translate(274.75 427.6) scale(1 1.035)">4</text>
<text class="m" transform="translate(-10.2 272.5) rotate(-90) scale(1 1.035)">2</text>
<text class="m" transform="translate(353.25 427.6) scale(1 1.035)">5</text>
<text class="m" transform="translate(-10.2 350.1) rotate(-90) scale(1 1.035)">1</text>
<text class="m" x="196.25" y="461">degree of importance</text>
<text transform="translate(-47.3 391.25) rotate(-90) scale(1.005 1)">degree of achievement</text>
<text x="-44" y="18.7">k.</text>
</g>
</svg></body></html>
